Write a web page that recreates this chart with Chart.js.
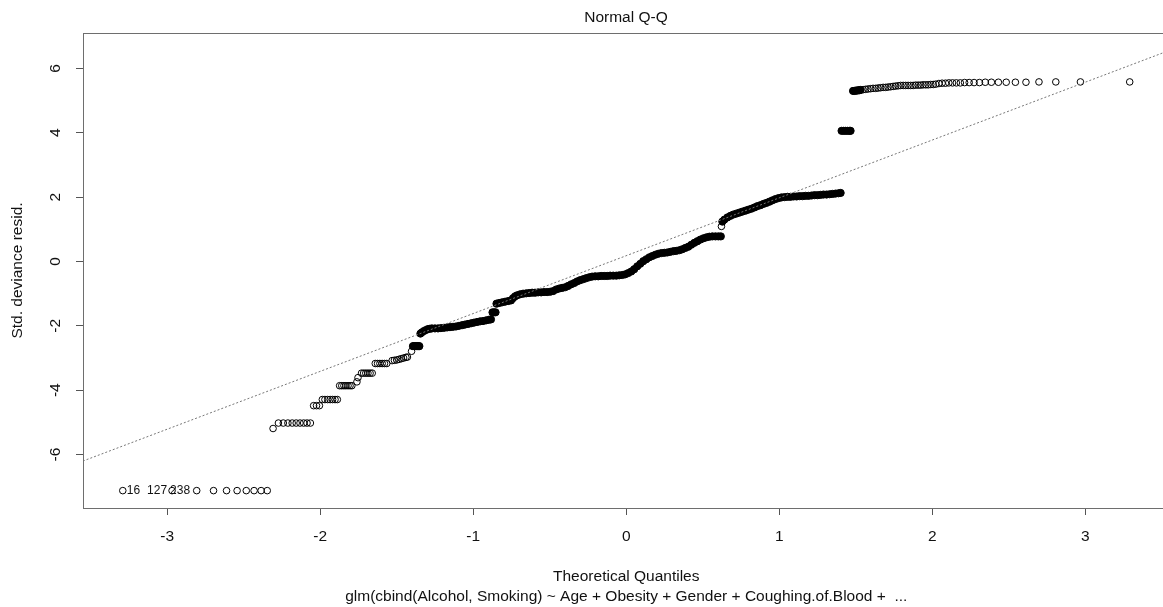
<!DOCTYPE html>
<html><head><meta charset="utf-8">
<script src="https://cdn.jsdelivr.net/npm/chart.js@4.4.1/dist/chart.umd.min.js"></script>
<style>
html,body{margin:0;padding:0;overflow:hidden;background:#fff;width:1163px;height:607px}
#wrap{position:absolute;left:0;top:0;width:1252px;height:607px}
</style></head><body>
<div id="wrap"><canvas id="c" width="1252" height="607"></canvas></div>
<script>
// ---------- text ----------
const chartTitle = 'Normal Q-Q';
const xTitle = 'Theoretical Quantiles';
const subCaption = 'glm(cbind(Alcohol, Smoking) ~ Age + Obesity + Gender + Coughing.of.Blood +  ...';
const yTitle = 'Std. deviance resid.';

// ---------- ticks ----------
const xTicks = [-3, -2, -1, 0, 1, 2, 3];
const yTicks = [-6, -4, -2, 0, 2, 4, 6];
const xRange = [-3.55, 3.55];
const yRange = [-7.66, 7.1];

// ---------- data: theoretical quantiles (Q) and std. deviance residuals (R) ----------
const lowTailQ = [-3.290, -2.968, -2.807, -2.697, -2.612, -2.543, -2.483, -2.432, -2.386, -2.346];
const lowTailR = [-7.12, -7.12, -7.12, -7.12, -7.12, -7.12, -7.12, -7.12, -7.12, -7.12];

const lowStepQ = [-2.308,
  -2.273, -2.241, -2.211, -2.183, -2.157, -2.132, -2.108, -2.086, -2.064,
  -2.043, -2.024, -2.005,
  -1.986, -1.969, -1.951, -1.935, -1.919, -1.903, -1.888,
  -1.873, -1.859, -1.845, -1.832, -1.818, -1.805, -1.793,
  -1.760, -1.753,
  -1.730, -1.716, -1.702, -1.688, -1.674, -1.660,
  -1.640, -1.625, -1.610, -1.595, -1.580, -1.565,
  -1.530, -1.515, -1.500, -1.485, -1.470, -1.455, -1.440, -1.430,
  -1.403];
const lowStepR = [-5.19,
  -5.02, -5.02, -5.02, -5.02, -5.02, -5.02, -5.02, -5.02, -5.02,
  -4.48, -4.48, -4.48,
  -4.29, -4.29, -4.29, -4.29, -4.29, -4.29, -4.29,
  -3.86, -3.86, -3.86, -3.86, -3.86, -3.86, -3.86,
  -3.74, -3.61,
  -3.47, -3.47, -3.47, -3.47, -3.47, -3.47,
  -3.17, -3.17, -3.17, -3.17, -3.17, -3.17,
  -3.08, -3.07, -3.06, -3.04, -3.02, -3.00, -2.98, -2.97,
  -2.79];

const lowBlobQ = [-1.394, -1.387, -1.380, -1.373, -1.366, -1.359, -1.352];
const lowBlobR = [-2.63, -2.63, -2.63, -2.63, -2.63, -2.63, -2.63];

const bandAQ = [-1.345, -1.335, -1.322, -1.309, -1.296, -1.283, -1.270, -1.250, -1.230, -1.211,
  -1.191, -1.171, -1.152, -1.132, -1.113, -1.093, -1.073, -1.054, -1.034, -1.014,
  -0.995, -0.975, -0.955, -0.936, -0.916, -0.897, -0.884];
const bandAR = [-2.24, -2.20, -2.16, -2.13, -2.10, -2.09, -2.08, -2.08, -2.08, -2.07,
  -2.06, -2.05, -2.04, -2.03, -2.02, -2.00, -1.98, -1.96, -1.94, -1.92,
  -1.90, -1.88, -1.86, -1.85, -1.83, -1.81, -1.80];

const midBlobQ = [-0.874, -0.864, -0.854];
const midBlobR = [-1.58, -1.58, -1.58];

const bandBQ = [-0.848, -0.831, -0.812, -0.792, -0.772, -0.753, -0.740, -0.726, -0.713, -0.694,
  -0.674, -0.654, -0.635, -0.615, -0.596, -0.576, -0.556, -0.537, -0.517, -0.497,
  -0.478, -0.458, -0.438, -0.419, -0.399, -0.380, -0.360, -0.340, -0.321, -0.301,
  -0.281, -0.262, -0.242, -0.223, -0.203, -0.183, -0.164, -0.144, -0.124, -0.105,
  -0.085, -0.065, -0.046, -0.026, -0.007, 0.013, 0.033, 0.052, 0.072, 0.092,
  0.111, 0.131, 0.151, 0.170, 0.190, 0.209, 0.229, 0.249, 0.268, 0.288,
  0.308, 0.327, 0.347, 0.366, 0.386, 0.406, 0.425, 0.445, 0.465, 0.484,
  0.504, 0.524, 0.543, 0.563, 0.583, 0.602, 0.618];
const bandBR = [-1.31, -1.29, -1.27, -1.25, -1.23, -1.21, -1.14, -1.08, -1.05, -1.02,
  -1.00, -0.99, -0.98, -0.97, -0.97, -0.96, -0.96, -0.95, -0.95, -0.94,
  -0.92, -0.87, -0.84, -0.82, -0.80, -0.76, -0.71, -0.67, -0.62, -0.58,
  -0.55, -0.52, -0.49, -0.47, -0.46, -0.46, -0.45, -0.45, -0.45, -0.44,
  -0.44, -0.44, -0.43, -0.42, -0.40, -0.36, -0.31, -0.24, -0.15, -0.07,
  0.01, 0.07, 0.13, 0.17, 0.21, 0.24, 0.26, 0.27, 0.28, 0.30,
  0.32, 0.33, 0.35, 0.38, 0.42, 0.46, 0.52, 0.58, 0.63, 0.68,
  0.72, 0.75, 0.77, 0.78, 0.78, 0.78, 0.78];

const gapQ = [0.622];
const gapR = [1.09];

const bandCQ = [0.628, 0.641, 0.661, 0.681, 0.700, 0.720, 0.740, 0.759, 0.779, 0.798,
  0.818, 0.838, 0.857, 0.877, 0.897, 0.916, 0.936, 0.955, 0.975, 0.995,
  1.014, 1.034, 1.054, 1.073, 1.093, 1.113, 1.132, 1.152, 1.171, 1.191,
  1.211, 1.230, 1.250, 1.270, 1.289, 1.309, 1.329, 1.348, 1.368, 1.387, 1.401];
const bandCR = [1.24, 1.30, 1.37, 1.42, 1.46, 1.49, 1.52, 1.55, 1.58, 1.61,
  1.64, 1.68, 1.72, 1.75, 1.79, 1.82, 1.86, 1.90, 1.94, 1.97,
  1.99, 2.00, 2.01, 2.01, 2.02, 2.02, 2.03, 2.03, 2.04, 2.04,
  2.05, 2.06, 2.06, 2.07, 2.08, 2.08, 2.09, 2.10, 2.11, 2.12, 2.13];

const highBlobQ = [1.407, 1.420, 1.433, 1.446, 1.459, 1.466];
const highBlobR = [4.06, 4.06, 4.06, 4.06, 4.06, 4.06];

const topBlobQ = [1.482, 1.490, 1.499, 1.507, 1.515, 1.523, 1.531];
const topBlobR = [5.30, 5.30, 5.31, 5.31, 5.32, 5.32, 5.33];

const highStepQ = [1.548, 1.564, 1.580, 1.597, 1.613, 1.630,
  1.646, 1.662, 1.679, 1.695, 1.711, 1.728, 1.744, 1.760, 1.777, 1.793,
  1.810, 1.826, 1.842, 1.859, 1.875, 1.891, 1.908, 1.924, 1.940, 1.957,
  1.973, 1.990, 2.006, 2.022];
const highStepR = [5.34, 5.35, 5.36, 5.37, 5.38, 5.38,
  5.39, 5.40, 5.41, 5.41, 5.42, 5.43, 5.44, 5.45, 5.46, 5.47,
  5.47, 5.47, 5.47, 5.47, 5.47, 5.48, 5.48, 5.48, 5.49, 5.49,
  5.49, 5.50, 5.50, 5.51];

const highTailQ = [2.043, 2.064, 2.086, 2.108, 2.132, 2.157, 2.183, 2.211, 2.241, 2.273,
  2.308, 2.346, 2.386, 2.432, 2.483, 2.543, 2.612, 2.697, 2.807, 2.968, 3.290];
const highTailR = [5.53, 5.54, 5.54, 5.55, 5.55, 5.55, 5.55, 5.56, 5.56, 5.56,
  5.56, 5.57, 5.57, 5.57, 5.57, 5.57, 5.57, 5.58, 5.58, 5.58, 5.58];

// reference line (qqline) end points
const qqLineQ = [-3.6, 3.6];
const qqLineR = [-6.29, 6.65];

// labelled extreme observations (anchored to lower-tail points)
const idLabels = ['16', '127', '238'];
const idPoint = [0, 1, 1];

// ---------- build ----------
const FONT = '"Liberation Sans", Arial, Helvetica, sans-serif';
const pts = (q, r) => q.map((v, i) => ({x: v, y: r[i]}));
const openPts = [].concat(pts(lowTailQ, lowTailR), pts(lowStepQ, lowStepR), pts(gapQ, gapR),
  pts(highStepQ, highStepR), pts(highTailQ, highTailR));
const densePts = [].concat(pts(lowBlobQ, lowBlobR), pts(bandAQ, bandAR), pts(midBlobQ, midBlobR),
  pts(bandBQ, bandBR), pts(bandCQ, bandCR), pts(highBlobQ, highBlobR), pts(topBlobQ, topBlobR));

const boxPlugin = {
  id: 'box',
  afterDraw(chart) {
    const {ctx, chartArea: a} = chart;
    ctx.save();
    ctx.strokeStyle = '#6e6e6e';
    ctx.lineWidth = 1;
    ctx.strokeRect(Math.round(a.left) + 0.5, Math.round(a.top) + 0.5,
      Math.round(a.right - a.left), Math.round(a.bottom - a.top));
    ctx.restore();
  }
};

const idPlugin = {
  id: 'idLabels',
  afterDatasetsDraw(chart) {
    const {ctx, scales: {x, y}} = chart;
    const align = ['left', 'right', 'left'];
    const dx = [4, -5, -2];
    ctx.save();
    ctx.font = '12px ' + FONT;
    ctx.fillStyle = '#111';
    ctx.textBaseline = 'middle';
    idLabels.forEach((t, i) => {
      const k = idPoint[i];
      ctx.textAlign = align[i];
      ctx.fillText(t, x.getPixelForValue(lowTailQ[k]) + dx[i], y.getPixelForValue(lowTailR[k]) + 0.5);
    });
    ctx.restore();
  }
};

const tickFont = {family: FONT, size: 15.5, lineHeight: 1.2};

new Chart(document.getElementById('c'), {
  data: {
    datasets: [
      {type: 'line', data: pts(qqLineQ, qqLineR), borderColor: '#777', borderWidth: 1,
        borderDash: [2, 2], pointRadius: 0, fill: false, tension: 0},
      {type: 'scatter', data: openPts, pointRadius: 3.3, pointBorderWidth: 1,
        borderColor: '#000', pointBorderColor: '#000', backgroundColor: 'rgba(0,0,0,0)',
        pointBackgroundColor: 'rgba(0,0,0,0)'},
      {type: 'scatter', data: densePts, pointRadius: 3.6, pointBorderWidth: 1,
        borderColor: '#000', pointBorderColor: '#000', backgroundColor: '#000',
        pointBackgroundColor: '#000'}
    ]
  },
  options: {
    responsive: false, animation: false, devicePixelRatio: 1, events: [],
    layout: {padding: 0},
    plugins: {
      legend: {display: false}, tooltip: {enabled: false},
      title: {display: true, text: chartTitle, color: '#111',
        font: {family: FONT, size: 15.5, weight: 'normal', lineHeight: 1.2},
        padding: {top: 8.7, bottom: 5.7}}
    },
    scales: {
      x: {
        type: 'linear', position: 'bottom', min: xRange[0], max: xRange[1],
        afterBuildTicks: s => { s.ticks = xTicks.map(v => ({value: v})); },
        afterFit: s => { s.height = 99; },
        ticks: {autoSkip: false, maxRotation: 0, minRotation: 0, padding: 12.7,
          color: '#111', font: tickFont, callback: v => String(v)},
        grid: {display: true, drawOnChartArea: false, drawTicks: true, tickLength: 7, color: '#555'},
        border: {display: false},
        title: {display: true, text: [xTitle, subCaption], color: '#111',
          font: {family: FONT, size: 15.5, lineHeight: 1.29}, padding: {top: 0, bottom: 0}}
      },
      y: {
        type: 'linear', position: 'left', min: yRange[0], max: yRange[1],
        afterBuildTicks: s => { s.ticks = yTicks.map(v => ({value: v})); },
        afterFit: s => { s.width = 83; },
        ticks: {autoSkip: false, minRotation: 90, maxRotation: 90, crossAlign: 'center',
          padding: 13.5, color: '#111', font: tickFont, callback: v => String(v)},
        grid: {display: true, drawOnChartArea: false, drawTicks: true, tickLength: 7, color: '#555'},
        border: {display: false},
        title: {display: true, text: yTitle, color: '#111',
          font: {family: FONT, size: 15.5, lineHeight: 1.2}, padding: {top: 8.7, bottom: 0}}
      },
      y2: {
        type: 'linear', position: 'right', display: true,
        afterFit: s => { s.width = 82.5; },
        grid: {display: false}, ticks: {display: false}, border: {display: false}
      }
    }
  },
  plugins: [boxPlugin, idPlugin]
});
</script></body></html>
